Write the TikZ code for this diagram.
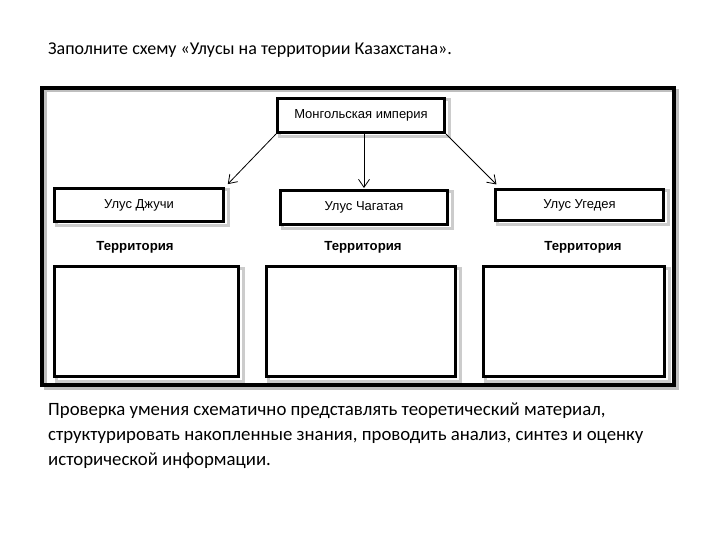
\documentclass[tikz,border=0pt]{standalone}
\usepackage{fontspec}
\setmainfont{Carlito}
\newfontfamily\boxfont{Liberation Sans}
\usetikzlibrary{arrows.meta}
\tikzset{
  ubox/.style={draw=black, line width=3pt, fill=white, inner sep=0pt,
    font=\boxfont\fontsize{13}{15}\selectfont},
  shadowbox/.style={draw=black!25, line width=3pt},
  terr/.style={font=\boxfont\bfseries\fontsize{13.2}{15}\selectfont, inner sep=0pt},
  arr/.style={line width=0.8pt, -{Straight Barb[length=8pt,width=11pt]}},
}
\begin{document}
\begin{tikzpicture}[x=1pt,y=-1pt]
\useasboundingbox (0,0) rectangle (720,540);
% title
\node[anchor=west, inner sep=0pt, font=\fontsize{18}{22}\selectfont] (title) at (48,50)
  {Заполните схему «Улусы на территории Казахстана».};
% outer frame with shadow
\draw[shadowbox] (45,91) rectangle (677,388);
\draw[line width=3.5pt, black] (42,88) rectangle (674,385);
% shadows of boxes
\foreach \a/\b/\c/\d in {277/98/447/135, 54/188/226/224, 280/190/450/227, 495/189/666/223,
  54/266/241/379, 266/266/458/379, 483/266/667/379}{
  \draw[black!20, line width=3pt] (\a+2,\b+2) rectangle (\c+2,\d+2);
}
% boxes
\node[ubox, minimum width=167pt, minimum height=34pt] (mongol) at (361,115.5) {Монгольская империя};
\node[ubox, minimum width=169pt, minimum height=33pt] (jochi) at (139,205) {Улус Джучи};
\node[ubox, minimum width=167pt, minimum height=34pt] (chag) at (364,207.5) {Улус Чагатая};
\node[ubox, minimum width=168pt, minimum height=31pt] (ugedei) at (579.5,205) {Улус Угедея};
% territory labels
\node[terr] (t1) at (135,247) {Территория};
\node[terr] (t2) at (363,247) {Территория};
\node[terr] (t3) at (583,247) {Территория};
% lower boxes
\node[ubox, minimum width=184pt, minimum height=110pt] (b1) at (146.5,321.5) {};
\node[ubox, minimum width=189pt, minimum height=110pt] (b2) at (361,321.5) {};
\node[ubox, minimum width=181pt, minimum height=110pt] (b3) at (574,321.5) {};
% arrows
\draw[arr, shorten >=4pt] (mongol.south west) -- (jochi.north east);
\draw[arr, shorten >=1pt] (mongol.south -| chag.north) -- (chag.north);
\draw[arr, shorten >=5pt] (mongol.south east) -- ([xshift=6pt]ugedei.north west);
% bottom text
\node[anchor=north west, inner sep=0pt, align=left,
  font=\fontsize{18.8}{25}\selectfont] (desc) at (48,403)
  {Проверка умения схематично представлять теоретический материал,\\
   структурировать накопленные знания, проводить анализ, синтез и оценку\\
   исторической информации.};
\end{tikzpicture}
\end{document}
